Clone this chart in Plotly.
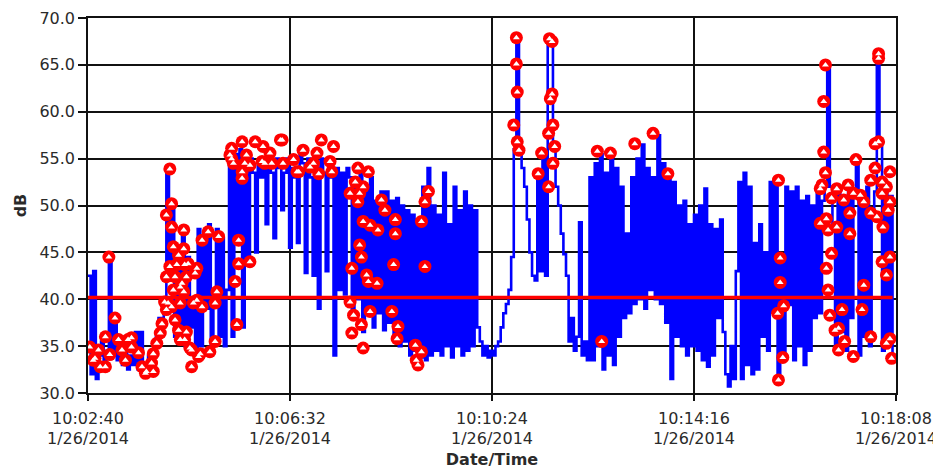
import numpy as np
import pandas as pd
import plotly.graph_objects as go

# ---------------- data ----------------
start_time = "2014-01-26 10:02:40"
sample_step_s = 3  # one reading every 3 seconds

spl_db = [
    42.5, 32, 43, 31.5,
    34, 35.5, 33.5, 34.5,
    44.5,
    34, 38,
    33.5, 35, 33, 36, 32.5, 34, 33, 36.5, 32.5,
    36.5, 33,
    32.5, 34, 33.5, 35.5, 36, 38, 37,
    39.5, 54, 42, 49.5, 36, 45.5,
    36, 47, 35, 44.5, 37, 40, 34.5,
    47.5, 35, 46, 39, 48, 34.5, 40, 47.5, 36, 46.5, 35, 41,
    54.5, 36,
    55.5, 46, 56, 37, 54.5, 44, 55,
    53.5, 45, 54.5, 53, 55, 48, 54, 53.5, 46.5, 55, 54, 49.5, 53.5, 55, 45.5, 54, 53, 46, 55.5,
    54.5, 42.8, 55, 53, 42.5, 54, 39, 55, 53.5, 43, 54.5, 53, 34, 54, 41, 53.5, 40.5, 54,
    53, 38, 52.5, 40, 53.5, 36.5, 52, 39, 53, 37, 50.5, 38.5,
    51.5, 36.7, 51.5, 37.5, 50.5,
    36, 50.8, 35, 50, 35.5,
    49.5, 34, 49, 34.5, 48.5,
    33.8, 52, 33.5, 54, 34,
    50, 34.5, 49, 34, 53.5, 35, 48, 33.8, 52, 35, 49.5, 34, 51.5, 34.5, 50, 35, 49.5, 37,
    35.5, 34, 35, 33.8, 34.5, 34, 35,
    35.5, 37, 38.5, 39.5, 41,
    44.5, 56, 68, 55.8,
    54, 52, 48.5, 45, 42.5,
    42, 53.5, 43, 55.5, 42.5,
    67.8, 67.3,
    56, 52, 50,
    47, 44.8, 42.5,
    35.5, 38, 34.5, 36,
    48.2,
    34, 35.5, 33.5,
    53, 33.5, 54.5, 35, 55.5, 32.5, 53.5, 34, 55.5, 33, 54, 36,
    52, 38, 47,
    38.5, 53, 39.5, 55, 40, 56.5, 39, 54, 41, 53, 40, 57.5, 39.5,
    54.5, 37.5, 53.5, 31.5, 52.5, 36, 50,
    35, 50.5, 34, 48, 35, 49, 34.5, 50,
    33.5, 51.8, 32.8, 48,
    34, 47.5, 38, 48.5, 36.5,
    32, 30.7, 35, 31.5,
    43,
    52.5, 31.5, 53.5, 33, 52, 32,
    46, 32.5, 48, 36, 45, 34.5,
    52.5, 38.6, 53, 31.4, 44.5, 33.9, 52,
    39.4, 51.5, 33.5, 52, 35, 50.5, 33, 51, 34.5,
    50, 38, 51.3,
    38.5, 50.5, 52,
    65, 52,
    48, 35, 51.5, 36.5, 50, 34.5, 52, 38, 51, 54.9, 34, 50.5, 36, 52, 35, 49, 51.5, 66.6, 56.5,
    34.5, 52, 35.5, 51, 33.5,
]

# flagged readings (seconds after start, dB)
alarm_sec = [
    2, 6, 8, 12, 14, 20, 20, 24, 25, 31, 35, 39, 43, 46, 50, 50, 58, 62, 66, 67,
    73, 75, 75, 79, 83, 85, 88, 90, 90, 90, 92, 94, 94, 96, 96, 96, 98, 98, 100, 100,
    102, 104, 104, 106, 106, 106, 108, 110, 110, 110, 111, 111, 113, 113, 115, 117, 119, 119, 121, 123,
    125, 125, 127, 129, 131, 131, 138, 140, 146, 146, 148, 150, 163, 165, 165, 167, 169, 171, 173, 173,
    177, 177, 177, 180, 182, 186, 186, 192, 200, 201, 203, 209, 211, 221, 223, 224, 236, 240, 242, 247,
    255, 259, 263, 265, 268, 278, 280, 282, 301, 301, 303, 303, 305, 307, 310, 310, 312, 312, 314, 314,
    316, 316, 316, 320, 322, 322, 324, 324, 332, 333, 337, 341, 349, 351, 353, 353, 355, 356, 376, 377,
    379, 383, 383, 387, 387, 391, 489, 492, 492, 493, 493, 495, 517, 521, 529, 529, 530, 531, 533, 533,
    534, 534, 536, 585, 590, 600, 628, 649, 666, 792, 793, 793, 795, 795, 798, 799, 841, 841, 843, 845,
    845, 847, 847, 848, 848, 850, 850, 852, 854, 854, 858, 860, 860, 862, 862, 866, 868, 869, 873, 875,
    875, 879, 879, 882, 887, 889, 891, 891, 899, 899, 899, 904, 904, 906, 908, 908, 908, 912, 912, 912,
    913, 917, 917, 917, 919, 921, 921, 921, 921, 923,
]
alarm_db = [
    34.9, 33.5, 33.7, 34.6, 32.8, 36.0, 32.8, 44.5, 34.1, 38.0, 35.7, 34.6, 33.5, 35.7, 35.9, 34.9, 34.3, 32.8, 32.1, 32.3,
    33.2, 34.2, 32.3, 35.3, 36.4, 37.4, 39.7, 38.9, 42.4, 49.0, 39.6, 53.9, 43.5, 39.2, 50.2, 47.7, 45.6, 41.0, 42.4, 37.8,
    43.7, 36.7, 44.7, 41.3, 39.6, 35.7, 41.7, 47.4, 45.4, 40.8, 43.7, 35.7, 42.4, 36.5, 43.8, 34.8, 34.6, 32.8, 39.6, 42.8,
    43.3, 39.9, 33.9, 34.2, 46.3, 39.2, 47.2, 34.4, 39.6, 35.5, 40.8, 46.7, 55.4, 56.1, 55.0, 54.5, 41.9, 37.3, 46.3, 43.8,
    56.8, 52.9, 53.6, 54.5, 55.4, 54.3, 44.0, 56.8, 54.7, 56.3, 54.5, 55.6, 54.5, 57.0, 57.0, 54.5, 54.9, 53.6, 53.6, 55.9,
    54.1, 54.5, 55.6, 53.4, 57.0, 54.7, 53.6, 56.3, 51.3, 39.7, 43.3, 36.4, 38.3, 52.5, 54.0, 50.4, 51.3, 45.8, 44.5, 37.3,
    52.0, 48.3, 34.8, 42.6, 53.6, 41.9, 47.9, 38.7, 41.7, 47.4, 50.6, 49.5, 38.7, 43.7, 48.5, 47.0, 35.8, 37.1, 35.1, 33.5,
    33.0, 48.3, 34.4, 50.4, 43.5, 51.5, 58.6, 67.9, 65.1, 62.1, 56.8, 55.9, 53.4, 55.6, 52.0, 57.7, 67.8, 61.4, 67.5, 61.9,
    58.6, 54.5, 56.3, 55.8, 35.5, 55.6, 56.6, 57.7, 53.4, 38.5, 52.7, 31.4, 44.4, 41.8, 33.8, 39.3, 51.8, 48.1, 52.2, 61.1,
    55.7, 65.0, 53.5, 48.6, 43.3, 47.4, 41.0, 38.3, 50.8, 44.9, 36.7, 51.8, 47.7, 36.9, 34.6, 38.9, 50.6, 35.5, 52.2, 49.2,
    47.0, 51.3, 33.9, 54.9, 51.1, 38.9, 50.4, 41.5, 52.7, 49.2, 36.0, 54.0, 56.6, 48.8, 66.2, 65.7, 56.8, 52.5, 51.3, 44.0,
    47.7, 52.0, 42.6, 35.3, 49.5, 53.6, 50.4, 44.5, 35.8, 33.7,
]

threshold_db = 40.2

tick_times = ["10:02:40", "10:06:32", "10:10:24", "10:14:16", "10:18:08"]
tick_dates = ["1/26/2014", "1/26/2014", "1/26/2014", "1/26/2014", "1/26/2014"]
y_ticks = [30, 35, 40, 45, 50, 55, 60, 65, 70]

# ---------------- build ----------------
t0 = pd.Timestamp(start_time)
t_blue = t0 + pd.to_timedelta(np.arange(len(spl_db)) * sample_step_s, unit="s")
t_alarm = t0 + pd.to_timedelta(np.array(alarm_sec), unit="s")
tick_vals = [pd.Timestamp("2014-01-26 " + s) for s in tick_times]
x_range = [tick_vals[0], tick_vals[-1]]

FONT = "DejaVu Sans"
TXT = "#2a2a2a"

fig = go.Figure()

fig.add_trace(go.Scatter(
    x=t_blue, y=spl_db, mode="lines", line=dict(color="#0000ff", width=2.6, shape="hv"),
    xaxis="x", yaxis="y", showlegend=False, hoverinfo="skip"))

fig.add_trace(go.Scatter(
    x=[t_blue[0], t_blue[-1]], y=[threshold_db, threshold_db], mode="lines",
    line=dict(color="#ff0000", width=3.5),
    xaxis="x2", yaxis="y", showlegend=False, hoverinfo="skip"))

fig.add_trace(go.Scatter(
    x=t_alarm, y=alarm_db, mode="markers",
    marker=dict(symbol="circle", size=13, color="#ff0000", line=dict(width=0)),
    xaxis="x2", yaxis="y", showlegend=False, hoverinfo="skip"))

fig.add_trace(go.Scatter(
    x=t_alarm, y=alarm_db, mode="markers",
    marker=dict(symbol="triangle-up", size=6, color="#ffffff", line=dict(width=0)),
    xaxis="x2", yaxis="y", showlegend=False, hoverinfo="skip"))

fig.update_layout(
    width=933, height=462,
    margin=dict(l=80, r=45, t=10, b=77, autoexpand=False),
    paper_bgcolor="white", plot_bgcolor="white",
    font=dict(family=FONT, size=16, color=TXT),
    xaxis=dict(
        type="date", range=x_range, tickvals=tick_vals, ticktext=tick_times,
        showgrid=True, gridcolor="#111111", gridwidth=1.5,
        showline=True, linecolor="#111111", linewidth=1.5, mirror=True,
        ticks="outside", ticklen=6, tickcolor="#111111", tickwidth=1.5,
        ticklabelstandoff=4,
        zeroline=False, automargin=False, tickfont=dict(family=FONT, size=16, color=TXT),
    ),
    xaxis2=dict(
        type="date", range=x_range, tickvals=tick_vals, ticktext=tick_dates,
        overlaying="x", side="bottom", anchor="y",
        showgrid=False, showline=False, zeroline=False, automargin=False,
        ticks="", ticklabelstandoff=34,
        tickfont=dict(family=FONT, size=16, color=TXT),
        title=dict(text="<b>Date/Time</b>", font=dict(family=FONT, size=16, color=TXT), standoff=6),
    ),
    yaxis=dict(
        range=[30, 70], tickvals=y_ticks, tickformat=".1f",
        showgrid=True, gridcolor="#111111", gridwidth=1.5,
        showline=True, linecolor="#111111", linewidth=1.5, mirror=True,
        ticks="outside", ticklen=8, tickcolor="#111111", tickwidth=1.5,
        zeroline=False, automargin=False, tickfont=dict(family=FONT, size=16, color=TXT),
        title=dict(text="<b>dB</b>", font=dict(family=FONT, size=16, color=TXT), standoff=9),
    ),
)

fig.write_html("out.html")
